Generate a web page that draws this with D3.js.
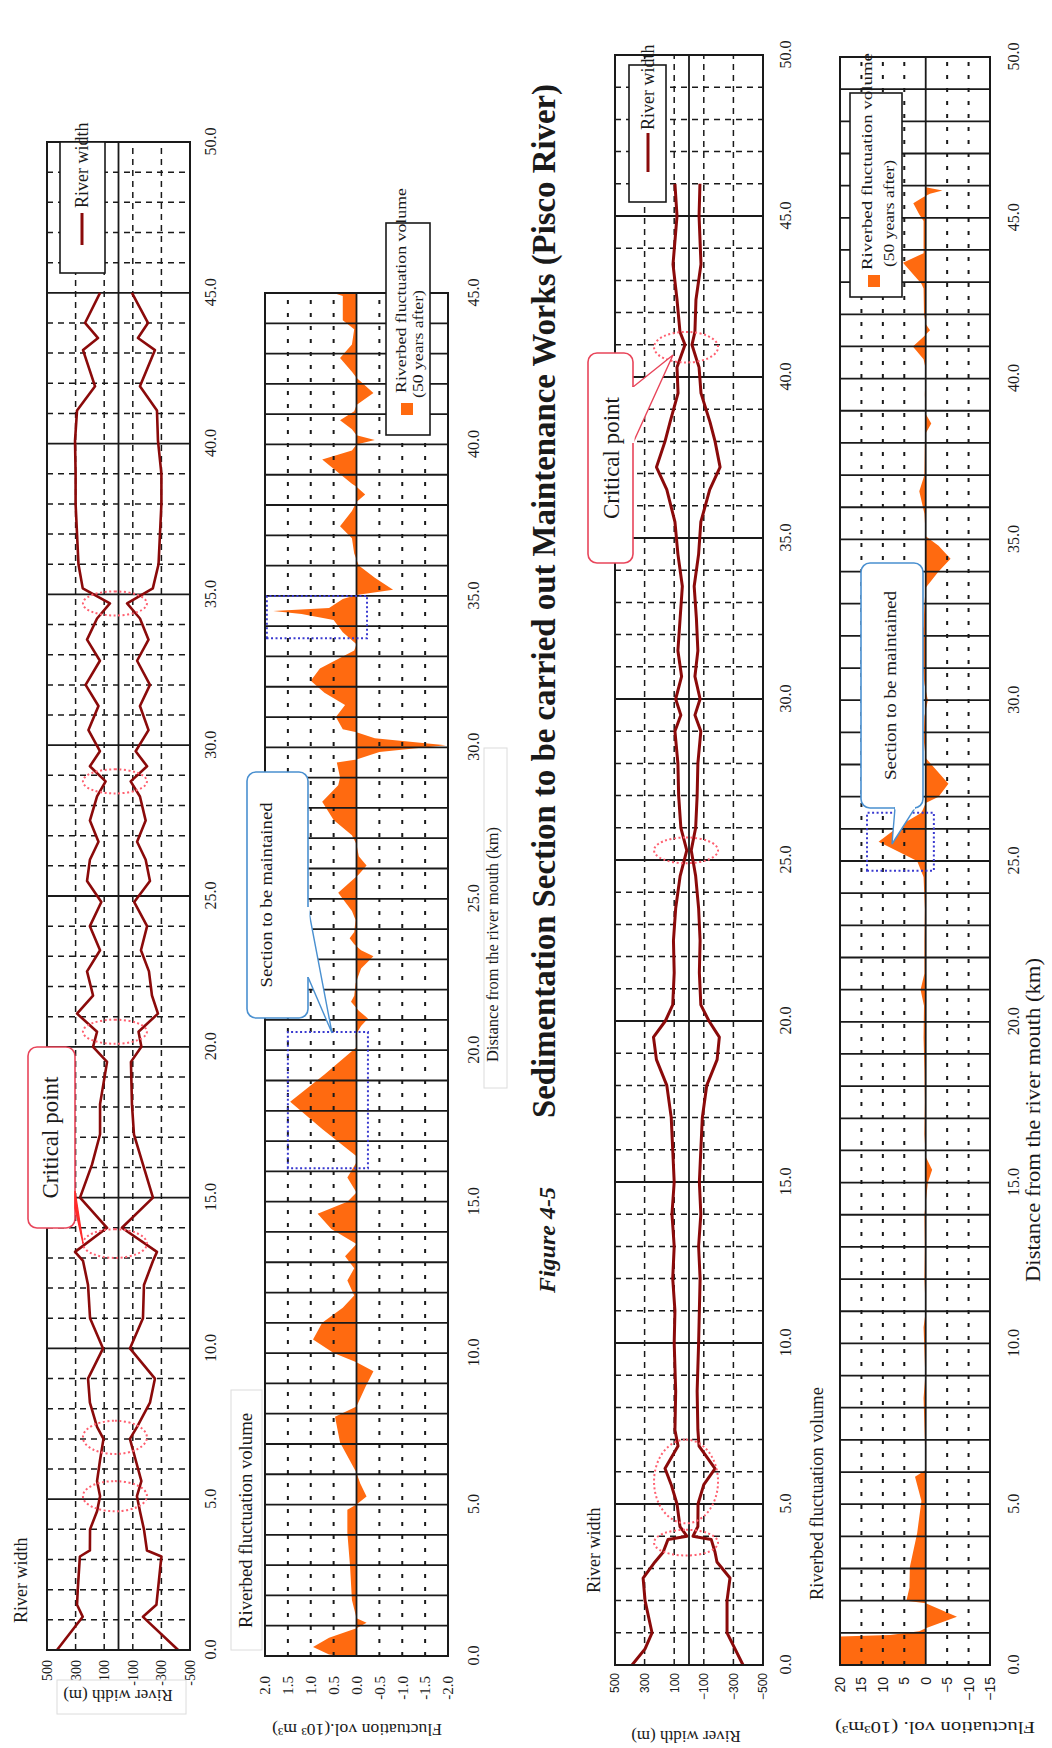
<!DOCTYPE html>
<html>
<head>
<meta charset="utf-8">
<title>Sedimentation Section - Pisco River</title>
<script src="https://cdn.jsdelivr.net/npm/d3@7"></script>
<style>
  body { margin: 0; background: #fff; }
  svg { display: block; }
</style>
</head>
<body>
<svg id="page" width="1052" height="1748"></svg>
<script>
/* ---- values ---- */

// ticks
var kmTicks = [0, 5, 10, 15, 20, 25, 30, 35, 40, 45, 50]
var widthTicks = [500, 300, 100, -100, -300, -500]
var upperVolTicks = [2.0, 1.5, 1.0, 0.5, 0.0, -0.5, -1.0, -1.5, -2.0]
var lowerVolTicks = [20, 15, 10, 5, 0, -5, -10, -15]

// upper graphs : river width [km, left bank, right bank] (m)
var upperWidth = [
  [0.0, 430, -417], [1.1, 250, -171], [1.5, 290, -265], [2.0, 285, -276], [3.1, 270, -300],
  [3.3, 200, -199], [4.0, 199, -178], [4.6, 150, -150], [5.1, 129, -129], [5.6, 150, -160],
  [6.3, 129, -120], [7.0, 105, -80], [7.4, 150, -130], [8.2, 200, -220], [9.0, 213, -255],
  [10.0, 108, -80], [11.0, 199, -171], [12.1, 213, -178], [12.9, 248, -241], [13.2, 304, -269],
  [14.0, 80, -24], [15.0, 269, -241], [16.1, 185, -171], [17.1, 129, -108], [18.1, 129, -94],
  [19.5, 80, -87], [20.0, 178, -160], [20.5, 150, -140], [21.1, 290, -276], [21.7, 178, -234],
  [22.5, 220, -213], [23.2, 129, -157], [24.0, 200, -200], [24.8, 120, -110], [25.5, 220, -220],
  [26.2, 200, -190], [26.8, 140, -130], [27.5, 200, -190], [28.3, 150, -150], [28.8, 90, -85],
  [29.3, 200, -200], [29.8, 130, -120], [30.5, 210, -210], [31.3, 140, -150], [32.0, 230, -220],
  [32.8, 130, -130], [33.5, 220, -210], [34.2, 150, -150], [34.7, 60, -60], [35.2, 250, -240],
  [36.0, 280, -280], [37.0, 290, -290], [38.0, 300, -300], [39.0, 300, -300], [40.1, 304, -276],
  [41.1, 290, -269], [41.9, 164, -150], [43.1, 248, -255], [43.5, 143, -136], [44.0, 234, -206],
  [45.0, 129, -94]
]

// upper graphs : riverbed fluctuation volume, 50 years after [km, 10^3 m3]
var upperVolume = [
  [0.0, 0.3], [0.05, 0.6], [0.3, 0.95], [0.6, 0.6], [0.92, 0.0], [1.1, -0.22], [1.25, 0.0],
  [1.85, 0.1], [2.95, 0.14], [4.07, 0.2], [4.83, 0.2], [5.0, 0.0], [5.27, -0.22], [5.7, -0.08],
  [6.05, 0.0], [7.05, 0.36], [7.9, 0.47], [8.24, 0.0], [8.9, -0.2], [9.4, -0.37], [9.7, 0.0],
  [10.0, 0.5], [10.45, 0.95], [11.0, 0.75], [11.5, 0.3], [11.9, 0.05], [12.4, 0.2], [12.8, 0.05],
  [13.2, 0.25], [13.6, 0.0], [14.1, 0.55], [14.6, 0.85], [15.0, 0.2], [15.3, 0.0], [15.8, 0.2],
  [16.3, 0.0], [16.5, 0.0], [17.4, 0.75], [18.3, 1.45], [19.2, 0.7], [20.1, 0.0], [20.5, 0.02],
  [20.8, -0.1], [21.05, -0.25], [21.3, -0.05], [21.6, 0.12], [21.8, 0.05], [22.2, 0.02],
  [22.7, -0.1], [23.1, -0.37], [23.3, -0.1], [23.5, 0.05], [23.7, 0.15], [23.9, 0.05],
  [24.3, 0.02], [24.6, 0.1], [25.2, 0.4], [25.6, 0.1], [25.8, -0.05], [26.1, -0.22],
  [26.4, -0.05], [26.8, 0.0], [27.1, 0.1], [27.6, 0.5], [28.2, 0.75], [28.75, 0.4], [29.0, 0.36],
  [29.5, 0.43], [29.6, 0.0], [29.85, -0.5], [30.07, -1.95], [30.3, -0.4], [30.5, 0.0],
  [30.6, 0.3], [31.0, 0.45], [31.4, 0.25], [31.8, 0.7], [32.2, 1.0], [32.6, 0.8], [33.2, 0.05],
  [33.4, 0.0], [33.8, 0.3], [34.2, 0.5], [34.4, 1.2], [34.5, 1.82], [34.6, 0.6], [34.9, 0.3],
  [35.03, 0.0], [35.2, -0.8], [35.6, -0.4], [36.0, -0.05], [36.4, 0.05], [36.9, 0.1],
  [37.3, 0.36], [37.8, 0.1], [38.1, 0.0], [38.35, -0.19], [38.6, 0.0], [38.7, 0.1], [39.5, 0.75],
  [39.8, 0.1], [40.0, 0.0], [40.15, -0.4], [40.3, 0.0], [40.5, 0.1], [40.8, 0.36], [41.1, 0.05],
  [41.3, 0.0], [41.7, -0.37], [42.2, 0.0], [42.4, 0.1], [42.85, 0.36], [43.3, 0.1], [43.8, 0.05],
  [44.1, 0.3], [44.9, 0.3], [45.0, 0.5]
]

// lower graphs : river width [km, left bank, right bank] (m)
var lowerWidth = [
  [0.0, 385, -365], [0.5, 297, -311], [1.0, 250, -257], [2.0, 297, -257], [2.7, 310, -277],
  [3.2, 230, -189], [3.5, 175, -176], [3.9, 142, -150], [4.0, 14, -27], [4.3, 61, -60],
  [5.0, 81, -61], [5.6, 120, -100], [6.1, 162, -176], [6.8, 74, -68], [7.3, 95, -60],
  [8.5, 90, -55], [10.0, 100, -65], [11.0, 95, -70], [12.0, 110, -75], [13.0, 100, -65],
  [14.0, 115, -80], [15.0, 100, -70], [16.0, 110, -80], [17.0, 120, -90], [18.0, 150, -120],
  [18.8, 220, -190], [19.5, 240, -205], [20.0, 160, -135], [20.5, 110, -80], [21.5, 100, -70],
  [22.5, 105, -75], [23.5, 90, -65], [24.5, 60, -45], [25.3, 15, -15], [26.0, 55, -45],
  [27.0, 70, -55], [28.0, 75, -60], [29.0, 95, -80], [29.5, 55, -40], [30.0, 90, -75],
  [30.7, 50, -40], [31.5, 75, -60], [32.5, 60, -50], [33.5, 45, -35], [34.5, 75, -65],
  [35.5, 95, -80], [36.5, 150, -140], [37.2, 220, -210], [38.0, 162, -176], [38.6, 128, -142],
  [39.5, 74, -81], [40.3, 81, -68], [41.0, 27, -20], [41.4, 61, -40], [42.4, 81, -47],
  [43.5, 108, -81], [45.0, 81, -68], [46.0, 95, -74]
]

// lower graphs : riverbed fluctuation volume, 50 years after [km, 10^3 m3]
var lowerVolume = [
  [0.0, 22], [0.88, 22], [0.93, 8.3], [1.05, 1.5], [1.14, 0], [1.5, -7.3], [1.92, 0],
  [2.0, 4.5], [2.4, 3.8], [3.05, 3.7], [4.1, 2], [5.1, 1], [5.85, 2.5], [6.06, 0], [7.0, 0.2],
  [8.3, 0.5], [9.0, 0.1], [10.5, 0.5], [11.0, 0], [12.0, 0.3], [13.0, 0.2], [14.0, 0.3],
  [15.0, -0.5], [15.4, -1.5], [15.8, 0], [16.5, 0.3], [17.5, 0.2], [18.5, 0.3], [19.5, 0.5],
  [20.5, 0.4], [21.0, 1.2], [21.5, 0.3], [22.5, 0.3], [23.5, 0.2], [24.5, 0.5], [25.0, 2],
  [25.6, 11.0], [26.1, 6], [26.5, 1], [26.8, 0], [27.0, -3], [27.4, -5.3], [27.9, -2], [28.2, 0],
  [28.8, 0.5], [29.5, 0.3], [30.0, -0.5], [30.5, 0.3], [31.2, 0.8], [31.8, 1.5], [32.3, 0.5],
  [33.0, 0.3], [33.5, 0], [34.0, -3], [34.4, -5.8], [34.8, -3], [35.1, 0], [35.8, 0.3],
  [36.5, 1.5], [37.0, 0.3], [38.0, 0.2], [38.3, 0], [38.6, -1.3], [38.9, 0], [39.5, 0.2],
  [40.3, 0], [40.6, 0.5], [41.0, 3], [41.3, 0.5], [41.5, -1], [41.7, 0], [42.0, 0.4],
  [42.8, 0.5], [42.95, 1], [43.6, 5.3], [43.9, 0.5], [44.9, 0.5], [45.1, 1.5], [45.45, 2.9],
  [45.65, 0.5], [45.75, -1], [45.85, -3.9], [45.95, 0]
]

// annotations : critical points [km from, km to], maintained sections [km from, km to, top, bottom]
var upperCritical = [[4.6, 5.6], [6.5, 7.6], [13.0, 13.95], [20.1, 20.9], [28.4, 29.2], [34.3, 35.1]]
var lowerCritical = [[3.4, 4.2], [4.4, 7.0], [24.9, 25.7], [40.45, 41.4]]
var upperMaintained = [[16.1, 20.6, 1.5, -0.25], [33.6, 35.0, 1.96, -0.23]]
var lowerMaintained = [[24.7, 26.5, 13.7, -1.9]]

/* ---- style ---- */
var serif = "'Liberation Serif', 'Times New Roman', serif"
var sans = "'Liberation Sans', Arial, sans-serif"
var ink = "#1a1a1a"
var riverRed = "#8b0a0a"
var orange = "#ff6a10"
var calloutRed = "#e8455a"
var calloutBlue = "#4a90d0"

var svg = d3.select("#page")
svg.append("rect").attr("width", 1052).attr("height", 1748).attr("fill", "#fff")

// the page is printed in landscape : draw in landscape coords then turn it
var land = svg.append("g").attr("transform", "translate(0,1748) rotate(-90)")

function label(parent, u, v, s, size, o) {
  o = o || {}
  var t = parent.append("text").attr("x", u).attr("y", v).text(s)
      .attr("font-family", o.font || serif)
      .attr("font-size", size)
      .attr("fill", o.fill || ink)
  if (o.anchor) t.attr("text-anchor", o.anchor)
  if (o.weight) t.attr("font-weight", o.weight)
  if (o.style) t.attr("font-style", o.style)
  if (o.dy) t.attr("dy", o.dy)
  if (o.rotate) t.attr("transform", "rotate(" + o.rotate + "," + u + "," + v + ")")
  if (o.len) t.attr("textLength", o.len).attr("lengthAdjust", "spacingAndGlyphs")
  return t
}

function faintBox(u0, v0, u1, v1) {
  land.append("rect").attr("x", u0).attr("y", v0).attr("width", u1 - u0).attr("height", v1 - v0)
      .attr("fill", "none").attr("stroke", "#dcdcdc").attr("stroke-width", 1)
}

/* ---- one graph frame : grid, border and axes ---- */
function panel(o) {
  var x = d3.scaleLinear().domain([0, o.kmMax]).range([o.u0, o.u1])
  var y = d3.scaleLinear().domain(o.yDomain).range([o.v0, o.v1])
  var root = land.append("g")

  root.append("rect").attr("x", o.u0).attr("y", o.v0)
      .attr("width", o.u1 - o.u0).attr("height", o.v1 - o.v0).attr("fill", "#fff")

  var under = root.append("g")
  var grid = root.append("g")

  // km lines
  grid.selectAll("line.km").data(d3.range(1, o.kmMax)).enter().append("line")
      .attr("x1", function (d) { return x(d) }).attr("x2", function (d) { return x(d) })
      .attr("y1", o.v0).attr("y2", o.v1)
      .attr("stroke", ink)
      .attr("stroke-width", function (d) { return (o.kind === "vol" || d % 5 === 0) ? 1.8 : 1.5 })
      .attr("stroke-dasharray", function (d) { return (o.kind === "vol" || d % 5 === 0) ? null : "6,5" })

  // value lines
  var inner = o.yTicks.filter(function (t) { return t !== o.yDomain[0] && t !== o.yDomain[1] && t !== 0 })
  grid.selectAll("line.val").data(inner).enter().append("line")
      .attr("x1", o.u0).attr("x2", o.u1)
      .attr("y1", function (d) { return y(d) }).attr("y2", function (d) { return y(d) })
      .attr("stroke", ink).attr("stroke-width", o.kind === "vol" ? 2 : 1.5)
      .attr("stroke-dasharray", o.kind === "vol" ? "4,9" : "6,5")
  grid.append("line").attr("x1", o.u0).attr("x2", o.u1).attr("y1", y(0)).attr("y2", y(0))
      .attr("stroke", ink).attr("stroke-width", 1.8)

  var over = root.append("g")

  root.append("rect").attr("x", o.u0).attr("y", o.v0)
      .attr("width", o.u1 - o.u0).attr("height", o.v1 - o.v0)
      .attr("fill", "none").attr("stroke", ink).attr("stroke-width", 2)

  var xa = root.append("g").attr("transform", "translate(0," + o.v1 + ")")
      .call(d3.axisBottom(x)
          .tickValues(kmTicks.filter(function (k) { return k <= o.kmMax }))
          .tickSize(0).tickPadding(o.xPad).tickFormat(d3.format(".1f")))
  xa.select(".domain").remove()
  xa.attr("font-family", serif).attr("font-size", 16)
  xa.selectAll("text").attr("fill", ink)

  var ya = root.append("g").attr("transform", "translate(" + o.u0 + ",0)")
      .call(d3.axisLeft(y).tickValues(o.yTicks).tickSize(0).tickPadding(o.yPad).tickFormat(o.yFmt))
  ya.select(".domain").remove()
  ya.attr("font-family", o.yFont).attr("font-size", o.yFontSize)
  ya.selectAll("text").attr("fill", ink)

  return { x: x, y: y, under: under, over: over, root: root }
}

function widthLines(p, rows, sw) {
  [1, 2].forEach(function (k) {
    p.over.append("path").datum(rows)
        .attr("d", d3.line().x(function (d) { return p.x(d[0]) }).y(function (d) { return p.y(d[k]) }))
        .attr("fill", "none").attr("stroke", riverRed).attr("stroke-width", sw)
        .attr("stroke-linejoin", "round")
  })
}

function volumeArea(p, rows, id, o) {
  land.append("clipPath").attr("id", id).append("rect")
      .attr("x", o.u0).attr("y", o.v0).attr("width", o.u1 - o.u0).attr("height", o.v1 - o.v0)
  p.under.append("path").datum(rows)
      .attr("clip-path", "url(#" + id + ")")
      .attr("d", d3.area().x(function (d) { return p.x(d[0]) })
          .y0(p.y(0)).y1(function (d) { return p.y(d[1]) }))
      .attr("fill", orange)
}

function criticalRings(p, spans, vCenter, ry) {
  p.over.selectAll("ellipse.crit").data(spans).enter().append("ellipse")
      .attr("cx", function (d) { return (p.x(d[0]) + p.x(d[1])) / 2 })
      .attr("cy", vCenter)
      .attr("rx", function (d) { return (p.x(d[1]) - p.x(d[0])) / 2 })
      .attr("ry", ry)
      .attr("fill", "none").attr("stroke", "#ff6070").attr("stroke-width", 2)
      .attr("stroke-dasharray", "2,2.5")
}

function maintainedBoxes(p, boxes) {
  p.over.selectAll("rect.sec").data(boxes).enter().append("rect")
      .attr("x", function (d) { return p.x(d[0]) })
      .attr("y", function (d) { return p.y(d[2]) })
      .attr("width", function (d) { return p.x(d[1]) - p.x(d[0]) })
      .attr("height", function (d) { return p.y(d[3]) - p.y(d[2]) })
      .attr("fill", "none").attr("stroke", "#3a3ad0").attr("stroke-width", 2)
      .attr("stroke-dasharray", "2,2.5")
}

function callout(box, wedge, color, text, size, len, textV, solidWedge) {
  var g = land.append("g")
  g.append("rect").attr("x", box[0]).attr("y", box[1])
      .attr("width", box[2] - box[0]).attr("height", box[3] - box[1])
      .attr("rx", 9).attr("fill", "#fff").attr("stroke", color).attr("stroke-width", 1.6)
  g.append("polygon").attr("points", wedge.map(function (p) { return p.join(",") }).join(" "))
      .attr("fill", solidWedge ? "#ff2a2a" : "#fff")
      .attr("stroke", solidWedge ? "#ff2a2a" : color).attr("stroke-width", 1.4)
  if (!solidWedge) {
    g.append("line").attr("x1", wedge[0][0]).attr("y1", wedge[0][1])
        .attr("x2", wedge[1][0]).attr("y2", wedge[1][1])
        .attr("stroke", "#fff").attr("stroke-width", 3)
  }
  var t = label(g, (box[0] + box[2]) / 2, textV, text, size, { anchor: "middle" })
  if (len) t.attr("textLength", len).attr("lengthAdjust", "spacingAndGlyphs")
}

function minusFmt(d) { return d < 0 ? "\u2212" + (-d) : String(d) }

/* ---- upper river : width ---- */
var o1 = { u0: 98, u1: 1606, v0: 47, v1: 190, kmMax: 50, yDomain: [500, -500], yTicks: widthTicks,
  kind: "width", xPad: 15, yPad: 10, yFont: serif, yFontSize: 14,
  yFmt: function (d) { return String(d) } }
var p1 = panel(o1)
widthLines(p1, upperWidth, 2.6)
criticalRings(p1, upperCritical, p1.y(25), 32)

/* ---- upper river : volume ---- */
var o2 = { u0: 92, u1: 1455, v0: 265, v1: 448, kmMax: 45, yDomain: [2, -2], yTicks: upperVolTicks,
  kind: "vol", xPad: 20, yPad: 20, yFont: serif, yFontSize: 15,
  yFmt: function (d) { return (d < 0 ? "-" : "") + Math.abs(d).toFixed(1) } }
var p2 = panel(o2)
volumeArea(p2, upperVolume, "clipUp", o2)
maintainedBoxes(p2, upperMaintained)

/* ---- lower river : width ---- */
var o3 = { u0: 83, u1: 1693, v0: 615, v1: 763, kmMax: 50, yDomain: [500, -500], yTicks: widthTicks,
  kind: "width", xPad: 17, yPad: 8, yFont: sans, yFontSize: 12, yFmt: minusFmt }
var p3 = panel(o3)
widthLines(p3, lowerWidth, 3)
criticalRings(p3, lowerCritical, p3.y(20), 32)

/* ---- lower river : volume ---- */
var o4 = { u0: 83, u1: 1691, v0: 840, v1: 990, kmMax: 50, yDomain: [20, -15], yTicks: lowerVolTicks,
  kind: "vol", xPad: 18, yPad: 12, yFont: sans, yFontSize: 14, yFmt: minusFmt }
var p4 = panel(o4)
volumeArea(p4, lowerVolume, "clipLow", o4)
maintainedBoxes(p4, lowerMaintained)

/* ---- titles ---- */
label(land, 125, 27, "River width", 18)
faintBox(98, 231, 358, 262)
label(land, 120, 252, "Riverbed fluctuation volume", 18, { len: 215 })
label(land, 155, 600, "River width", 18)
label(land, 148, 823, "Riverbed fluctuation volume", 18, { len: 213 })

faintBox(660, 484, 1000, 507)
label(land, 686, 498, "Distance from the river mouth (km)", 16, { len: 235 })
label(land, 466, 1040, "Distance from the river mouth (km)", 20, { len: 324 })

faintBox(34, 57, 68, 186)
label(land, 52, 118, "River width (m)", 17, { anchor: "middle", rotate: -90, dy: "0.35em" })
label(land, 18, 357, "Fluctuation vol.(10\u00b3 m\u00b3)", 16, { anchor: "middle", rotate: -90, dy: "0.35em", len: 170 })
label(land, 11, 686, "River width (m)", 17, { anchor: "middle", rotate: -90, dy: "0.35em" })
label(land, 20, 935, "Fluctuation vol. (10\u00b3m\u00b3)", 16, { anchor: "middle", rotate: -90, dy: "0.35em", len: 200 })

/* ---- legends ---- */
function widthLegend(u0, v0, u1, v1, lineU0, lineU1, lineV, textU) {
  land.append("rect").attr("x", u0).attr("y", v0).attr("width", u1 - u0).attr("height", v1 - v0)
      .attr("fill", "#fff").attr("stroke", ink).attr("stroke-width", 1.6)
  land.append("line").attr("x1", lineU0).attr("x2", lineU1).attr("y1", lineV).attr("y2", lineV)
      .attr("stroke", riverRed).attr("stroke-width", 3)
  label(land, textU, lineV + 6, "River width", 18)
}
widthLegend(1475, 60, 1606, 105, 1503, 1535, 82, 1540)
widthLegend(1546, 629, 1683, 666, 1576, 1615, 648, 1618)

function volumeLegend(u0, v0, u1, v1, sq, l1, l2) {
  land.append("rect").attr("x", u0).attr("y", v0).attr("width", u1 - u0).attr("height", v1 - v0)
      .attr("fill", "#fff").attr("stroke", ink).attr("stroke-width", 1.6)
  land.append("rect").attr("x", sq[0]).attr("y", sq[1]).attr("width", 12).attr("height", 12)
      .attr("fill", orange)
  label(land, l1[0], l1[1], "Riverbed fluctuation volume", 15, { len: l1[2] })
  label(land, l2[0], l2[1], "(50 years after)", 15, { len: l2[2] })
}
volumeLegend(1313, 386, 1525, 430, [1333, 401], [1355, 406, 205], [1350, 423, 108])
volumeLegend(1451, 850, 1655, 902, [1461, 868], [1478, 872, 217], [1481, 894, 107])

/* ---- callouts ---- */
callout([520, 28, 701, 75], [[540, 75], [557, 75], [505, 83]], calloutRed, "Critical point", 23, null, 58, true)
callout([1185, 588, 1395, 633], [[1305, 633], [1361, 633], [1393, 673]], calloutRed, "Critical point", 23, null, 619, false)
callout([730, 247, 976, 308], [[771, 308], [841, 308], [715, 332]], calloutBlue, "Section to be maintained", 17, 185, 272, false)
callout([940, 861, 1185, 923], [[940, 895], [940, 915], [904, 892]], calloutBlue, "Section to be maintained", 17, 189, 896, false)

/* ---- caption ---- */
label(land, 455, 555, "Figure 4-5", 24, { weight: "bold", style: "italic" })
label(land, 630, 555, "Sedimentation Section to be carried out Maintenance Works (Pisco River)", 33,
    { weight: "bold", len: 1034 })
</script>
</body>
</html>
